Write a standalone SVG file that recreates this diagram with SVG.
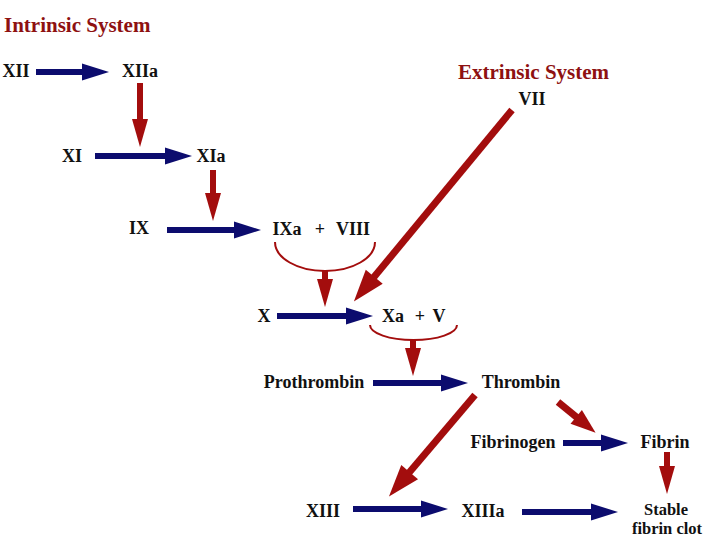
<svg xmlns="http://www.w3.org/2000/svg" width="720" height="540" viewBox="0 0 720 540">
<defs>
<style>
text{font-family:"Liberation Serif","Times New Roman",serif;font-weight:bold;fill:#111;}
.t{font-size:18px;text-anchor:middle;}
.s{font-size:16.5px;text-anchor:middle;}
.title{font-size:21px;fill:#8e1111;}
.b{stroke:#0c0c6e;stroke-width:6;fill:none;marker-end:url(#ab);}
.r{stroke:#a30d0d;stroke-width:6;fill:none;marker-end:url(#ar);}
.d{stroke:#a30d0d;stroke-width:7;fill:none;marker-end:url(#ad);}
.d2{stroke:#a30d0d;stroke-width:7;fill:none;marker-end:url(#ad2);}
.arc{stroke:#a30d0d;stroke-width:2;fill:none;}
</style>
<marker id="ab" markerUnits="userSpaceOnUse" markerWidth="28" markerHeight="17" refX="1" refY="8.5" orient="auto" overflow="visible"><path d="M0,0 L27,8.5 L0,17 Z" fill="#0c0c6e"/></marker>
<marker id="ar" markerUnits="userSpaceOnUse" markerWidth="28" markerHeight="16" refX="1" refY="8" orient="auto" overflow="visible"><path d="M0,0 L28,8 L0,16 Z" fill="#a30d0d"/></marker>
<marker id="ad" markerUnits="userSpaceOnUse" markerWidth="32" markerHeight="22" refX="1" refY="11" orient="auto" overflow="visible"><path d="M0,0 L32,11 L0,22 Z" fill="#a30d0d"/></marker>
<marker id="ad2" markerUnits="userSpaceOnUse" markerWidth="25" markerHeight="18" refX="1" refY="9" orient="auto" overflow="visible"><path d="M0,0 L25,9 L0,18 Z" fill="#a30d0d"/></marker>
</defs>
<rect width="720" height="540" fill="#fff"/>
<text class="title" x="4" y="32">Intrinsic System</text>
<text class="title" x="458" y="79">Extrinsic System</text>
<g id="XII"><text class="t" x="16" y="77">XII</text></g>
<g id="XIIa"><text class="t" x="140" y="77">XIIa</text></g>
<g id="XI"><text class="t" x="72" y="162">XI</text></g>
<g id="XIa"><text class="t" x="211" y="162">XIa</text></g>
<g id="IX"><text class="t" x="139" y="234">IX</text></g>
<g id="IXa_VIII"><text class="t" x="287" y="235">IXa</text><text class="t" x="320" y="235">+</text><text class="t" x="353" y="235">VIII</text><path class="arc" d="M275,242 A50,29 0 0 0 375,242"/></g>
<g id="VII"><text class="t" x="532" y="105">VII</text></g>
<g id="X"><text class="t" x="264" y="322">X</text></g>
<g id="Xa_V"><text class="t" x="393" y="322">Xa</text><text class="t" x="420" y="322">+</text><text class="t" x="439" y="322">V</text><path class="arc" d="M370,325 A43.5,15 0 0 0 457,325"/></g>
<g id="Prothrombin"><text class="t" x="314" y="388">Prothrombin</text></g>
<g id="Thrombin"><text class="t" x="521" y="388">Thrombin</text></g>
<g id="Fibrinogen"><text class="t" x="513" y="448">Fibrinogen</text></g>
<g id="Fibrin"><text class="t" x="665" y="448">Fibrin</text></g>
<g id="XIII"><text class="t" x="323" y="517">XIII</text></g>
<g id="XIIIa"><text class="t" x="483" y="517">XIIIa</text></g>
<g id="Clot"><text class="s" x="666" y="515">Stable</text><text class="s" x="667" y="534">fibrin clot</text></g>
<g id="connectors">
<line class="b" x1="36" y1="72" x2="83" y2="72"/>
<line class="b" x1="95" y1="156" x2="166" y2="156"/>
<line class="b" x1="167" y1="230" x2="235" y2="230"/>
<line class="b" x1="277" y1="316" x2="347" y2="316"/>
<line class="b" x1="373" y1="383" x2="442" y2="383"/>
<line class="b" x1="563" y1="443" x2="602" y2="443"/>
<line class="b" x1="353" y1="509" x2="422" y2="509"/>
<line class="b" x1="522" y1="512" x2="592" y2="512"/>
<line class="r" x1="140" y1="83" x2="140" y2="120"/>
<line class="r" x1="213" y1="170" x2="213" y2="194"/>
<line class="r" x1="325" y1="270" x2="325" y2="280"/>
<line class="r" x1="413" y1="339" x2="413" y2="349"/>
<line class="r" x1="667" y1="452" x2="667" y2="467"/>
<line class="d" x1="512" y1="110" x2="373.6" y2="277.5"/>
<line class="d" x1="475" y1="395" x2="409" y2="472.8"/>
<line class="d2" x1="558" y1="402" x2="577" y2="417.5"/>
</g>
</svg>
